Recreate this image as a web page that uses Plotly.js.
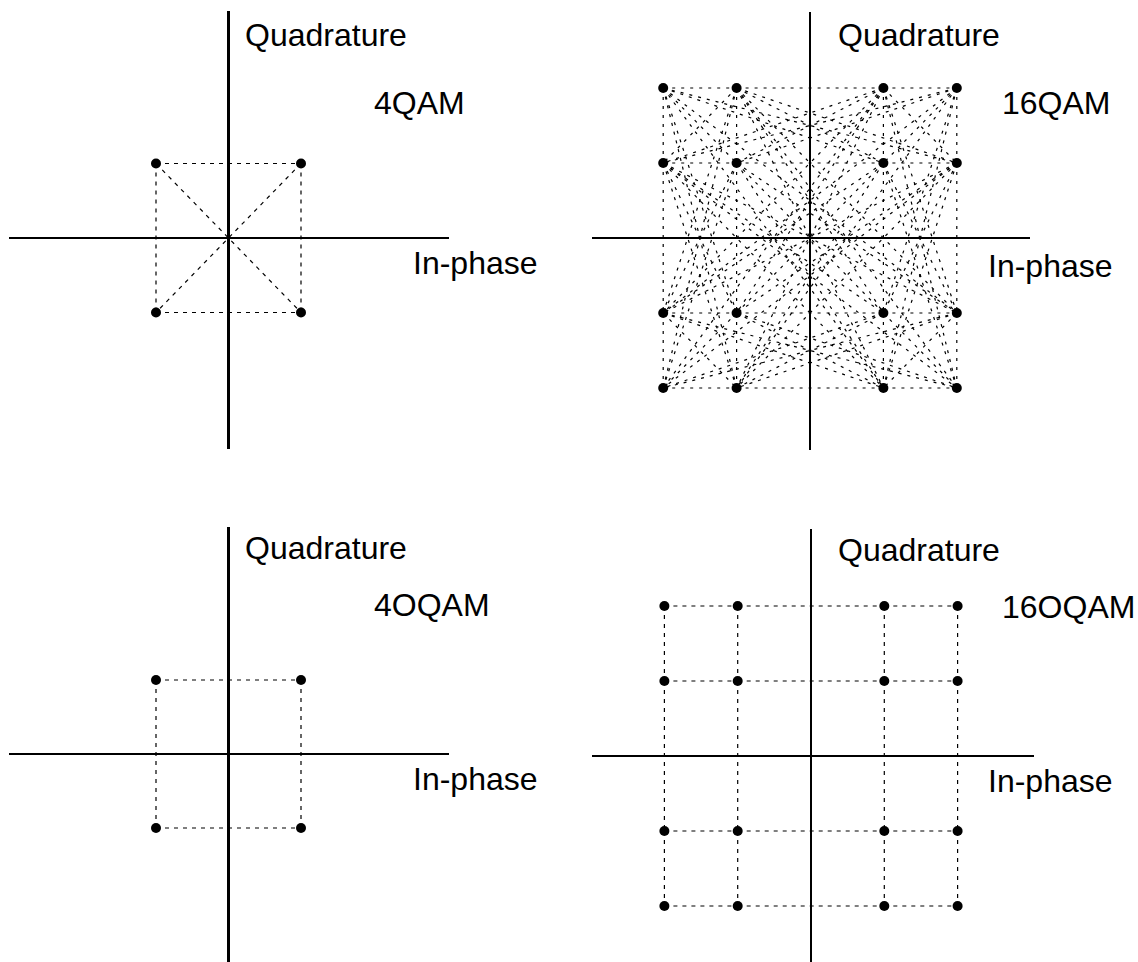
<!DOCTYPE html>
<html>
<head>
<meta charset="utf-8">
<script src="https://cdn.plot.ly/plotly-3.0.1.min.js"></script>
<style>
  html, body { margin: 0; padding: 0; background: #fff; }
  #chart { width: 1138px; height: 962px; }
</style>
</head>
<body>
<div id="chart"></div>
<script>
// ---- Data ----
const panelNames = ['4QAM', '16QAM', '4OQAM', '16OQAM'];
const axisLabelQ = 'Quadrature';
const axisLabelI = 'In-phase';

// 4QAM constellation (in-phase, quadrature)
const qam4I = [-1, 1, -1, 1];
const qam4Q = [1, 1, -1, -1];

// 16QAM constellation
const qam16I = [-2, -1, 1, 2, -2, -1, 1, 2, -2, -1, 1, 2, -2, -1, 1, 2];
const qam16Q = [2, 2, 2, 2, 1, 1, 1, 1, -1, -1, -1, -1, -2, -2, -2, -2];

// 4OQAM constellation
const oqam4I = [-1, 1, -1, 1];
const oqam4Q = [1, 1, -1, -1];
const oqam4Edges = [[0, 1], [2, 3], [0, 2], [1, 3]];

// 16OQAM constellation
const oqam16I = [-2, -1, 1, 2, -2, -1, 1, 2, -2, -1, 1, 2, -2, -1, 1, 2];
const oqam16Q = [2, 2, 2, 2, 1, 1, 1, 1, -1, -1, -1, -1, -2, -2, -2, -2];
const oqam16Edges = [
  [0, 1], [1, 2], [2, 3], [4, 5], [5, 6], [6, 7],
  [8, 9], [9, 10], [10, 11], [12, 13], [13, 14], [14, 15],
  [0, 4], [4, 8], [8, 12], [1, 5], [5, 9], [9, 13],
  [2, 6], [6, 10], [10, 14], [3, 7], [7, 11], [11, 15]
];

// ---- Helpers ----
const W = 1138, H = 962;
const px = x => x / W;
const py = y => 1 - y / H;
const FONT = 'Liberation Sans, Arial, Helvetica, sans-serif';

// every transition between two symbols, skipping ones that pass through another symbol
function allTransitions(I, Q) {
  const e = [];
  const n = I.length;
  for (let a = 0; a < n; a++) {
    for (let b = a + 1; b < n; b++) {
      let covered = false;
      for (let c = 0; c < n && !covered; c++) {
        if (c === a || c === b) continue;
        const cross = (I[b] - I[a]) * (Q[c] - Q[a]) - (Q[b] - Q[a]) * (I[c] - I[a]);
        const dot = (I[c] - I[a]) * (I[b] - I[a]) + (Q[c] - Q[a]) * (Q[b] - Q[a]);
        const len2 = (I[b] - I[a]) ** 2 + (Q[b] - Q[a]) ** 2;
        if (Math.abs(cross) < 1e-9 && dot > 0 && dot < len2) covered = true;
      }
      if (!covered) e.push([a, b]);
    }
  }
  return e;
}

function edgeTrace(I, Q, edges, xa, ya, dash) {
  const x = [], y = [];
  edges.forEach(([a, b]) => { x.push(I[a], I[b], null); y.push(Q[a], Q[b], null); });
  return {
    type: 'scatter', mode: 'lines', x, y, xaxis: xa, yaxis: ya,
    line: { color: '#000', width: 1.2, dash },
    connectgaps: false, hoverinfo: 'skip', showlegend: false
  };
}

function pointTrace(I, Q, xa, ya) {
  return {
    type: 'scatter', mode: 'markers', x: I, y: Q, xaxis: xa, yaxis: ya,
    marker: { color: '#000', size: 10, line: { width: 0 } },
    hoverinfo: 'skip', showlegend: false
  };
}

const traces = [
  edgeTrace(qam4I, qam4Q, allTransitions(qam4I, qam4Q), 'x', 'y', '4px,5px'),
  edgeTrace(qam16I, qam16Q, allTransitions(qam16I, qam16Q), 'x2', 'y2', '3px,6px'),
  edgeTrace(oqam4I, oqam4Q, oqam4Edges, 'x3', 'y3', '4px,5px'),
  edgeTrace(oqam16I, oqam16Q, oqam16Edges, 'x4', 'y4', '4px,5px'),
  pointTrace(qam4I, qam4Q, 'x', 'y'),
  pointTrace(qam16I, qam16Q, 'x2', 'y2'),
  pointTrace(oqam4I, oqam4Q, 'x3', 'y3'),
  pointTrace(oqam16I, oqam16Q, 'x4', 'y4')
];

function ax(domain, range, anchor) {
  return {
    domain, range, anchor,
    showgrid: false, showticklabels: false, ticks: '', showline: false,
    zeroline: true, zerolinecolor: '#000', zerolinewidth: 2.6,
    fixedrange: true
  };
}

const layout = {
  width: W, height: H,
  margin: { l: 0, r: 0, t: 0, b: 0 },
  paper_bgcolor: '#fff', plot_bgcolor: 'rgba(0,0,0,0)',
  showlegend: false,
  font: { family: FONT, color: '#000', size: 32 },
  xaxis:  ax([px(9), px(449)],    [-(228.5 - 9) / 72.5, (449 - 228.5) / 72.5], 'y'),
  yaxis:  ax([py(449), py(11)],   [-(449 - 238) / 74.5, (238 - 11) / 74.5], 'x'),
  xaxis2: ax([px(592), px(1030)], [-(810 - 592) / 73.4, (1030 - 810) / 73.4], 'y2'),
  yaxis2: ax([py(450), py(12)],   [-(450 - 238) / 75, (238 - 12) / 75], 'x2'),
  xaxis3: ax([px(9), px(449)],    [-(228.5 - 9) / 72.5, (449 - 228.5) / 72.5], 'y3'),
  yaxis3: ax([py(962), py(527)],  [-(962 - 754) / 74, (754 - 527) / 74], 'x3'),
  xaxis4: ax([px(592), px(1034)], [-(811 - 592) / 73.3, (1034 - 811) / 73.3], 'y4'),
  yaxis4: ax([py(962), py(529)],  [-(962 - 756) / 75, (756 - 529) / 75], 'x4'),
  annotations: []
};

function label(text, x, y) {
  layout.annotations.push({
    text, xref: 'paper', yref: 'paper', x: px(x), y: py(y),
    xanchor: 'left', yanchor: 'middle', showarrow: false,
    font: { size: 32, color: '#000', family: FONT }
  });
}

// Panel 1
label(axisLabelQ, 243, 35);
label(panelNames[0], 372, 103);
label(axisLabelI, 411, 263);
// Panel 2
label(axisLabelQ, 836, 35);
label(panelNames[1], 1000, 103);
label(axisLabelI, 986, 266);
// Panel 3
label(axisLabelQ, 243, 548);
label(panelNames[2], 372, 605);
label(axisLabelI, 411, 779);
// Panel 4
label(axisLabelQ, 836, 550);
label(panelNames[3], 1000, 607);
label(axisLabelI, 986, 781);

Plotly.newPlot('chart', traces, layout, { staticPlot: true, displayModeBar: false });
</script>
</body>
</html>
